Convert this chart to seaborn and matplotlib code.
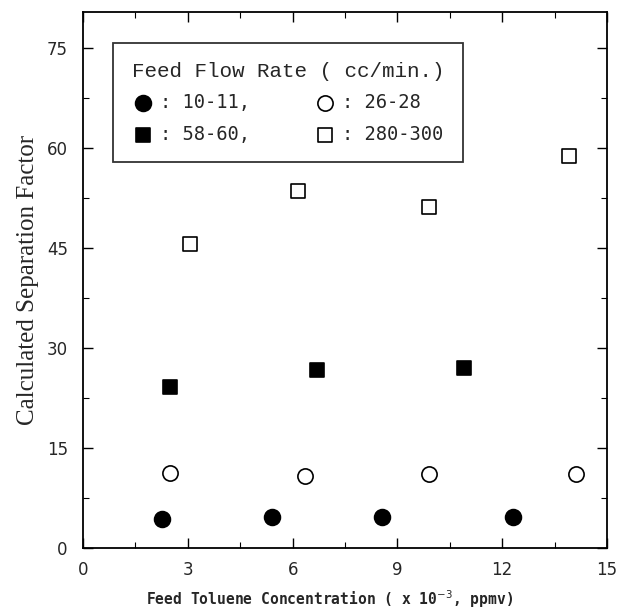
import matplotlib
matplotlib.use("Agg")
import matplotlib.pyplot as plt
import seaborn as sns
import pandas as pd

# ---- data ----
low_x = [2.25, 5.4, 8.55, 12.3]          # 10-11 cc/min (filled circles)
low_y = [4.4, 4.7, 4.7, 4.65]
mid_x = [2.5, 6.35, 9.9, 14.1]            # 26-28 cc/min (open circles)
mid_y = [11.3, 10.9, 11.2, 11.2]
high_x = [2.5, 6.7, 10.9]                 # 58-60 cc/min (filled squares)
high_y = [24.2, 26.8, 27.0]
vhigh_x = [3.05, 6.15, 9.9, 13.9]         # 280-300 cc/min (open squares)
vhigh_y = [45.7, 53.6, 51.2, 58.8]

labels = [": 10-11,", ": 26-28", ": 58-60,", ": 280-300"]
legend_title = "Feed Flow Rate ( cc/min.)"
x_ticks = [0, 3, 6, 9, 12, 15]
y_ticks = [0, 15, 30, 45, 60, 75]

sns.set_theme(style="ticks")
plt.rcParams["font.family"] = ["DejaVu Sans"]

fig = plt.figure(figsize=(6.2, 6.16), dpi=100)
ax = fig.add_axes([0.134, 0.110, 0.845, 0.870])

series = [
    (low_x, low_y, labels[0], "o", "black", 130),
    (mid_x, mid_y, labels[1], "o", "white", 120),
    (high_x, high_y, labels[2], "s", "black", 90),
    (vhigh_x, vhigh_y, labels[3], "s", "white", 90),
]
for xs, ys, lab, mk, fc, sz in series:
    df = pd.DataFrame({"x": xs, "y": ys})
    sns.scatterplot(data=df, x="x", y="y", ax=ax, marker=mk, s=sz,
                    color=fc, edgecolor="black", linewidth=1.2, label=lab,
                    zorder=3)

ax.set_xlim(0, 15)
ax.set_ylim(0, 80.4)
ax.set_xticks(x_ticks)
ax.set_yticks(y_ticks)
ax.set_xticks([1.5, 4.5, 7.5, 10.5, 13.5], minor=True)
ax.set_yticks([7.5, 22.5, 37.5, 52.5, 67.5], minor=True)
ax.tick_params(which="both", direction="in", top=True, right=True,
               color="black")
ax.tick_params(which="major", length=7, width=1.0, labelsize=12)
ax.tick_params(axis="y", which="major", pad=11)
ax.tick_params(axis="x", which="major", pad=9)
ax.tick_params(which="minor", length=4, width=0.8)
for sp in ax.spines.values():
    sp.set_color("black")
    sp.set_linewidth(1.3)
    sp.set_visible(True)

ax.set_xlabel("Feed Toluene Concentration ( x 10$^{-3}$, ppmv)",
              family="DejaVu Sans Mono", fontsize=10.5, fontweight="bold")
ax.xaxis.set_label_coords(0.47, -0.075)
ax.set_ylabel("Calculated Separation Factor", family="Liberation Serif",
              fontsize=18)
ax.yaxis.set_label_coords(-0.085, 0.5)

handles, labs = ax.get_legend_handles_labels()
order = [0, 2, 1, 3]
leg = ax.legend([handles[i] for i in order], [labs[i] for i in order],
                ncol=2, loc="upper left", borderaxespad=0,
                bbox_to_anchor=(0.057, 0.942), title=legend_title,
                prop={"family": "DejaVu Sans Mono", "size": 13.5},
                title_fontproperties={"family": "Liberation Mono", "size": 15},
                frameon=True, fancybox=False, edgecolor="black",
                handletextpad=0.3, columnspacing=3.4, borderpad=1.0,
                labelspacing=0.65, markerscale=1.0, handlelength=1.2)
leg.get_frame().set_linewidth(1.3)
leg._legend_box.align = "left"

fig.savefig("out.png", dpi=100, facecolor="white")
